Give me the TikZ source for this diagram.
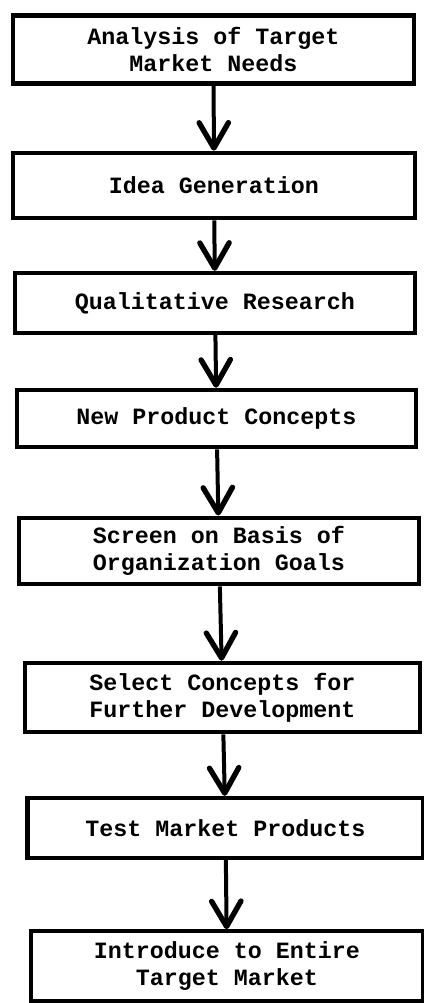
\documentclass[tikz,border=0pt]{standalone}
\usepackage{fontspec}
\setmainfont{Liberation Mono}
\usetikzlibrary{arrows.meta}

\tikzset{every picture/.style={line width=0.5pt}}
\tikzset{stepbox/.style={draw, line width=3.2pt, align=center, inner sep=0pt,
    font=\fontsize{17.5}{20.5}\selectfont\bfseries},
  flow/.style={line width=3pt, -{Straight Barb[round, length=19pt, width=22pt, line width=4pt]}}}

\begin{document}
\begin{tikzpicture}[x=0.75pt,y=0.75pt,yscale=-1,xscale=1]
\useasboundingbox (0,0) rectangle (424,1003);

% Steps
\node [stepbox, minimum width=301pt, minimum height=51pt] (needs) at (213.5,49.5) {Analysis of Target\\Market Needs};
\node [stepbox, minimum width=301pt, minimum height=49pt] (idea) at (214,185.5) {Idea Generation};
\node [stepbox, minimum width=300pt, minimum height=45pt] (quali) at (215,303) {Qualitative Research};
\node [stepbox, minimum width=299pt, minimum height=43pt] (concepts) at (216.5,418.5) {New Product Concepts};
\node [stepbox, minimum width=300pt, minimum height=50pt] (screen) at (219,551) {Screen on Basis of\\Organization Goals};
\node [stepbox, minimum width=296pt, minimum height=52pt] (select) at (222.5,697.5) {Select Concepts for\\Further Development};
\node [stepbox, minimum width=297pt, minimum height=45pt] (test) at (225.5,828) {Test Market Products};
\node [stepbox, minimum width=294pt, minimum height=52pt] (intro) at (227,966) {Introduce to Entire\\Target Market};

% Flow arrows
\draw [flow] (needs) -- (idea);
\draw [flow] (idea) -- (quali);
\draw [flow] (quali) -- (concepts);
\draw [flow] (concepts) -- (screen);
\draw [flow] (screen) -- (select);
\draw [flow] (select) -- (test);
\draw [flow] (test) -- (intro);

\end{tikzpicture}
\end{document}
